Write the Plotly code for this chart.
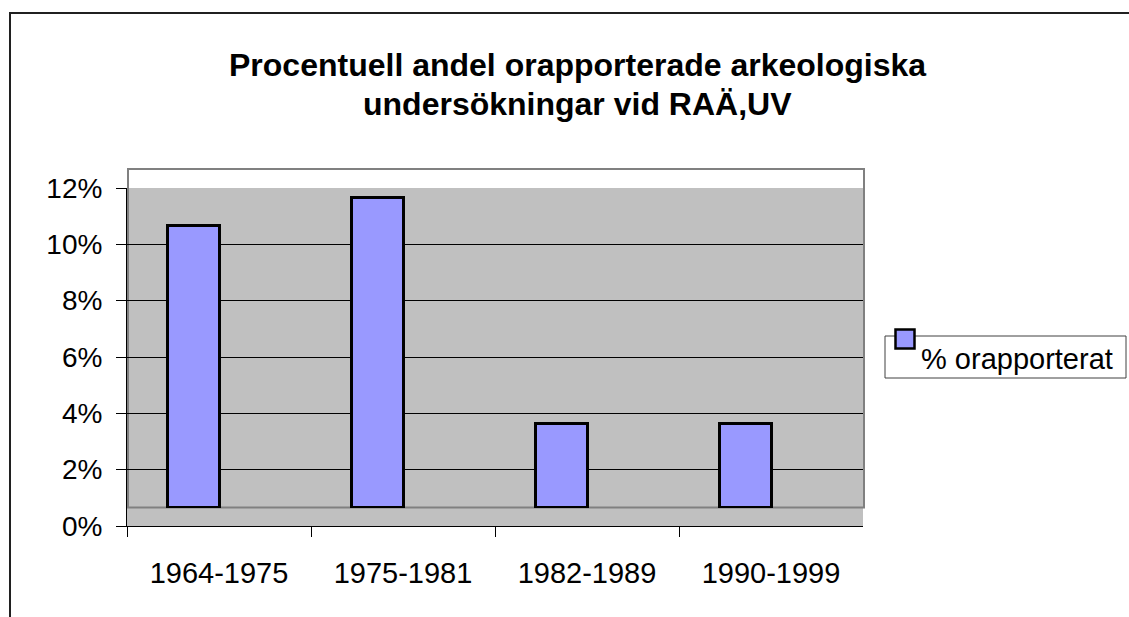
import plotly.graph_objects as go

# ---- data ----
periods = ["1964-1975", "1975-1981", "1982-1989", "1990-1999"]
values = [0.10, 0.11, 0.03, 0.03]
series_name = "% orapporterat"
title_lines = ["Procentuell andel orapporterade arkeologiska", "undersökningar vid RAÄ,UV"]

W, H = 1129, 617
def fx(p):
    return p / W
def fy(p):
    return 1 - p / H

FONT = "Liberation Sans, Arial, sans-serif"
BAR_COLOR = "#9999ff"
TXT = 29

fig = go.Figure()
fig.add_trace(go.Bar(
    x=periods, y=values, xaxis="x2", yaxis="y2", name=series_name,
    marker=dict(color=BAR_COLOR, line=dict(color="black", width=3)),
    width=0.285, showlegend=False, hoverinfo="skip",
))
# invisible trace to create the main axis system
fig.add_trace(go.Scatter(x=periods, y=[None]*len(periods), mode="markers",
                         showlegend=False, hoverinfo="skip"))

shapes = [
    # gray plot background
    dict(type="rect", xref="paper", yref="paper", x0=fx(127), x1=fx(863), y0=fy(526), y1=fy(188),
         fillcolor="#c0c0c0", line=dict(width=0), layer="below"),
    # plot area border (back wall)
    dict(type="rect", xref="paper", yref="paper", x0=fx(128), x1=fx(864), y0=fy(507.5), y1=fy(169),
         fillcolor="rgba(0,0,0,0)", line=dict(color="#808080", width=2), layer="between"),
    # chart outer frame (cut off at right and bottom)
    dict(type="rect", xref="paper", yref="paper", x0=fx(10), x1=fx(1140), y0=fy(630), y1=fy(13),
         fillcolor="rgba(0,0,0,0)", line=dict(color="#202020", width=2), layer="above"),
    # legend box
    dict(type="rect", xref="paper", yref="paper", x0=fx(885), x1=fx(1126), y0=fy(378), y1=fy(336),
         fillcolor="white", line=dict(color="#404040", width=1), layer="above"),
    # legend symbol
    dict(type="rect", xref="paper", yref="paper", x0=fx(895.5), x1=fx(914.5), y0=fy(348.5), y1=fy(329.5),
         fillcolor=BAR_COLOR, line=dict(color="black", width=2.5), layer="above"),
]

annotations = [
    dict(text="<b>" + title_lines[0] + "</b>", xref="paper", yref="paper",
         x=fx(577), y=fy(65.5), xanchor="center", yanchor="middle", showarrow=False,
         font=dict(family=FONT, size=32, color="black")),
    dict(text="<b>" + title_lines[1] + "</b>", xref="paper", yref="paper",
         x=fx(577), y=fy(104), xanchor="center", yanchor="middle", showarrow=False,
         font=dict(family=FONT, size=32, color="black")),
    dict(text=series_name, xref="paper", yref="paper", x=fx(919), y=fy(358.5),
         xanchor="left", yanchor="middle", showarrow=False,
         font=dict(family=FONT, size=TXT, color="black")),
]

fig.update_layout(
    width=W, height=H, autosize=False,
    margin=dict(l=0, r=0, t=0, b=0, pad=0, autoexpand=False),
    paper_bgcolor="white", plot_bgcolor="rgba(0,0,0,0)",
    font=dict(family=FONT, size=TXT, color="black"),
    shapes=shapes, annotations=annotations, showlegend=False,
    bargap=0,
    xaxis=dict(domain=[fx(127), fx(863)], anchor="y", type="category",
               categoryorder="array", categoryarray=periods, range=[-0.5, 3.5],
               showline=True, linecolor="black", linewidth=1,
               ticks="outside", ticklen=10, tickcolor="black", tickwidth=1,
               tickson="boundaries", showgrid=False, zeroline=False, automargin=False,
               tickfont=dict(family=FONT, size=TXT, color="black"),
               ticklabelstandoff=21, fixedrange=True),
    yaxis=dict(domain=[fy(526), fy(188)], anchor="x", range=[0, 0.12], dtick=0.02,
               tickformat=".0%", showgrid=True, gridcolor="black", gridwidth=1,
               showline=True, linecolor="black", linewidth=1, zeroline=False,
               ticks="outside", ticklen=10, tickcolor="black", tickwidth=1,
               tickfont=dict(family=FONT, size=28, color="black"), automargin=False,
               ticklabelstandoff=8, fixedrange=True),
    xaxis2=dict(domain=[fx(102), fx(838)], anchor="y2", type="category",
                categoryorder="array", categoryarray=periods, range=[-0.5, 3.5],
                visible=False, fixedrange=True, automargin=False),
    yaxis2=dict(domain=[fy(508), fy(170)], anchor="x2", range=[0, 0.12],
                visible=False, fixedrange=True, automargin=False),
)

fig.write_html("out.html", config={"displayModeBar": False},
               post_script="document.body.style.margin='0';document.body.style.overflow='hidden';")
